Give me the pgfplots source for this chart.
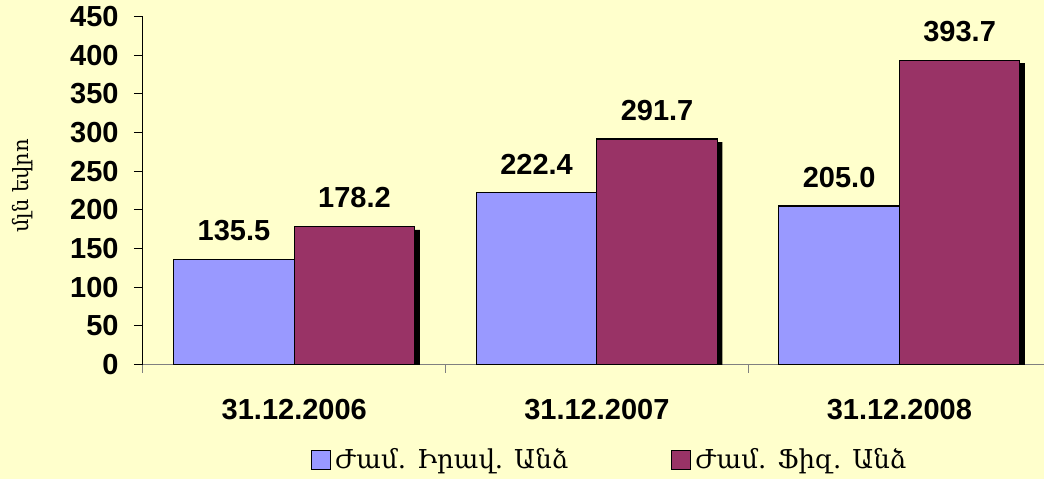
\documentclass[border=0pt]{standalone}
\usepackage{pgfplots}
\pgfplotsset{compat=1.18}
\usepackage{fontspec}
\setmainfont{Liberation Sans}
\newfontfamily\armfont{DejaVu Serif}
\usetikzlibrary{backgrounds}
\definecolor{bgyellow}{HTML}{FFFFCC}
\definecolor{barblue}{HTML}{9999FF}
\definecolor{barplum}{HTML}{993366}

\begin{document}
\begin{tikzpicture}
\begin{axis}[
  scale only axis, width=450.5pt, height=173.9pt,
  xmin=-0.5, xmax=2.478, ymin=0, ymax=450,
  axis x line*=bottom, axis y line*=left,
  x axis line style={draw=gray, line width=0.6pt},
  y axis line style={draw=black, line width=0.5pt},
  ybar, bar width=60.25pt,
  xtick={0,1,2}, xticklabels={31.12.2006,31.12.2007,31.12.2008},
  major x tick style={draw=none},
  minor xtick={-0.5,0.5,1.5}, minor tick length=4pt,
  minor x tick style={draw=gray, line width=0.5pt},
  ytick={0,50,...,450}, major tick length=4.5pt, tick align=outside,
  y tick style={draw=black, line width=0.5pt},
  /pgf/number format/assume math mode=true,
  tick label style={font=\bfseries\fontsize{14.5}{15}\selectfont},
  yticklabel style={anchor=east, inner sep=0pt, xshift=-7.5pt},
  xticklabel style={anchor=north, inner sep=0pt, yshift=-12.5pt},
  legend image code/.code={\draw[#1, draw=black, line width=0.6pt] (0pt,-4.75pt) rectangle (9.5pt,4.75pt);},
  legend style={at={(0.519,-0.2746)}, anchor=center, legend columns=2,
    draw=none, fill=none, font=\armfont\fontsize{13}{15}\selectfont,
    /tikz/every even column/.append style={column sep=49.5pt}},
  nodes near coords={\pgfmathprintnumber[fixed,zerofill,precision=1]{\pgfplotspointmeta}},
  every node near coord/.append style={font=\bfseries\fontsize{14.5}{15}\selectfont, anchor=south, inner sep=0pt, yshift=9pt},
]
% shadow of the plum bars
\addplot[fill=black, draw=none, bar shift=30.125pt, forget plot, nodes near coords={},
  transform canvas={xshift=2.5pt, yshift=-1.5pt}]
  coordinates {(0,178.2) (1,291.7) (2,393.7)};
\addplot[fill=barblue, draw=black, line width=0.6pt, bar shift=-30.125pt]
  coordinates {(0,135.5) (1,222.4) (2,205.0)};
\addplot[fill=barplum, draw=black, line width=0.6pt, bar shift=30.125pt]
  coordinates {(0,178.2) (1,291.7) (2,393.7)};
\legend{Ժամ. Իրավ. Անձ, Ժամ. Ֆիզ. Անձ}
\end{axis}
\node[rotate=90, font=\armfont\fontsize{10.5}{12}\selectfont] at (-60pt,89.25pt) {մլն եվրո};
\begin{scope}[on background layer]
\fill[bgyellow] (-71.5pt,-57.25pt) rectangle (450.5pt,182.25pt);
\end{scope}
\pgfresetboundingbox
\useasboundingbox (-71.5pt,-57.25pt) rectangle (450.5pt,182.25pt);
\end{tikzpicture}
\end{document}
